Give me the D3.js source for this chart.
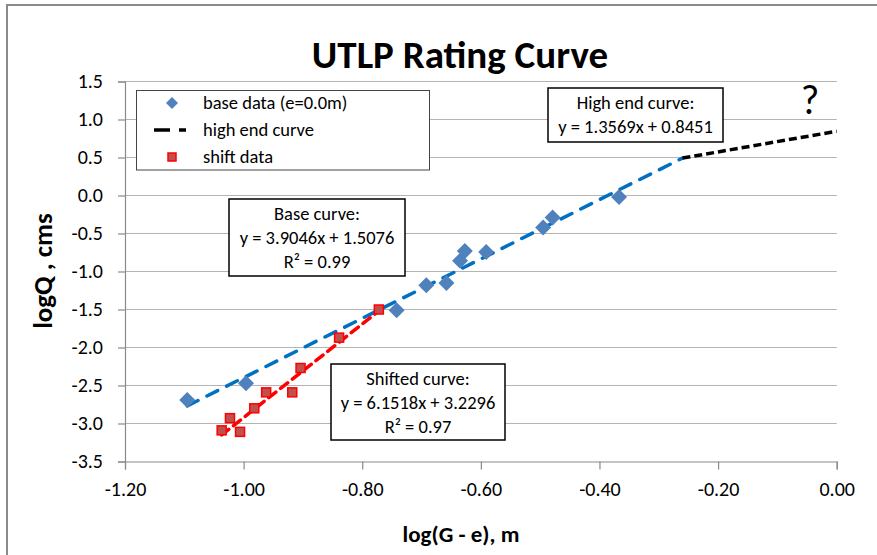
<!DOCTYPE html>
<html lang="en">
<head>
  <meta charset="UTF-8">
  <title>UTLP Rating Curve</title>
  <style>
    body { margin: 0; background: #fff; }
    svg { display: block; font-family: Carlito, Calibri, Lato, sans-serif; }
    .tick text { font-size: 20px; fill: #000; }
    .ann text { font-size: 18.5px; fill: #000; }
  </style>
</head>
<body>
  <script src="https://cdnjs.cloudflare.com/ajax/libs/d3/7.8.5/d3.min.js"></script>
  <svg></svg>
  <script>
    // base data (e = 0.0 m)
    var baseX = [-1.095, -0.996, -0.742, -0.692, -0.658, -0.635, -0.627, -0.591, -0.495, -0.479, -0.367];
    var baseY = [-2.69, -2.47, -1.51, -1.18, -1.15, -0.86, -0.73, -0.745, -0.42, -0.29, -0.02];
    // shift data
    var shiftX = [-1.037, -1.023, -1.006, -0.982, -0.962, -0.918, -0.904, -0.839, -0.772];
    var shiftY = [-3.09, -2.93, -3.11, -2.80, -2.59, -2.59, -2.27, -1.87, -1.50];
    // fitted curves
    var baseFit = {m: 3.9046, b: 1.5076};
    var shiftFit = {m: 6.1518, b: 3.2296};
    var highFit = {m: 1.3569, b: 0.8451};
    var xTicks = [-1.2, -1.0, -0.8, -0.6, -0.4, -0.2, 0.0];
    var yTicks = [1.5, 1.0, 0.5, 0.0, -0.5, -1.0, -1.5, -2.0, -2.5, -3.0, -3.5];
    var legendLabels = ['base data (e=0.0m)', 'high end curve', 'shift data'];

    var width = 877, height = 555;
    var plot = {left: 125, right: 836.7, top: 81.5, bottom: 461.5};

    var svg = d3.select('svg')
                .attr('width', width)
                .attr('height', height);

    var x = d3.scaleLinear().domain([-1.2, 0]).range([plot.left, plot.right]);
    var y = d3.scaleLinear().domain([-3.5, 1.5]).range([plot.bottom, plot.top]);

    // outer chart border
    svg.append('rect')
      .attr('x', 7).attr('y', 5)
      .attr('width', width).attr('height', height)
      .attr('fill', 'none').attr('stroke', '#8a8a8a').attr('stroke-width', 2);

    // gridlines
    svg.append('g')
      .selectAll('line')
      .data(yTicks.slice(0, -1))
      .enter()
      .append('line')
        .attr('x1', plot.left).attr('x2', plot.right)
        .attr('y1', function(d) { return y(d); })
        .attr('y2', function(d) { return y(d); })
        .attr('stroke', '#b4b4b4').attr('stroke-width', 1.2);

    // axes
    var yAxis = svg.append('g')
      .attr('transform', 'translate(' + plot.left + ',0)')
      .call(d3.axisLeft(y).tickValues(yTicks).tickSize(7).tickPadding(15)
        .tickFormat(function(d) { return d.toFixed(1); }));
    var xAxis = svg.append('g')
      .attr('transform', 'translate(0,' + plot.bottom + ')')
      .call(d3.axisBottom(x).tickValues(xTicks).tickSize(8).tickPadding(12)
        .tickFormat(function(d) { return d.toFixed(2); }));
    [xAxis, yAxis].forEach(function(a) {
      a.select('.domain').attr('stroke', '#8a8a8a').attr('stroke-width', 1.2);
      a.selectAll('.tick line').attr('stroke', '#8a8a8a').attr('stroke-width', 1.2);
      a.attr('font-family', null).attr('font-size', null);
    });

    // trend lines
    var xInt = (highFit.b - baseFit.b) / (baseFit.m - highFit.m);
    function fitLine(f, x0, x1) {
      return [[x0, f.m * x0 + f.b], [x1, f.m * x1 + f.b]];
    }
    var line = d3.line().x(function(d) { return x(d[0]); }).y(function(d) { return y(d[1]); });

    svg.append('path')
      .attr('d', line(fitLine(baseFit, d3.min(baseX), xInt)))
      .attr('fill', 'none').attr('stroke', '#0070c0').attr('stroke-width', 3.5)
      .attr('stroke-dasharray', '12,10').attr('stroke-linecap', 'round');
    svg.append('path')
      .attr('d', line(fitLine(highFit, xInt, 0)))
      .attr('fill', 'none').attr('stroke', '#000').attr('stroke-width', 3.5)
      .attr('stroke-dasharray', '8,4');

    // base data
    svg.append('g')
      .selectAll('path')
      .data(baseX)
      .enter()
      .append('path')
        .attr('d', d3.symbol(d3.symbolSquare, 128))
        .attr('transform', function(d, i) {
          return 'translate(' + x(d) + ',' + y(baseY[i]) + ') rotate(45)';
        })
        .attr('fill', '#4f81bd');

    svg.append('path')
      .attr('d', line(fitLine(shiftFit, d3.min(shiftX), d3.max(shiftX))))
      .attr('fill', 'none').attr('stroke', '#ff0000').attr('stroke-width', 3.5)
      .attr('stroke-dasharray', '9,6').attr('stroke-linecap', 'round');

    // shift data
    svg.append('g')
      .selectAll('rect')
      .data(shiftX)
      .enter()
      .append('rect')
        .attr('x', function(d) { return x(d) - 4.5; })
        .attr('y', function(d, i) { return y(shiftY[i]) - 4.5; })
        .attr('width', 9).attr('height', 9)
        .attr('fill', '#c0504d').attr('stroke', '#ff0000').attr('stroke-width', 1.5);

    // title and axis titles
    svg.append('text')
      .attr('x', 460).attr('y', 68)
      .attr('text-anchor', 'middle')
      .attr('font-size', 39).attr('font-weight', 'bold')
      .text('UTLP Rating Curve');
    svg.append('text')
      .attr('x', 461).attr('y', 542)
      .attr('text-anchor', 'middle')
      .attr('font-size', 23).attr('font-weight', 'bold')
      .text('log(G - e), m');
    svg.append('text')
      .attr('transform', 'translate(52,271) rotate(-90)')
      .attr('text-anchor', 'middle')
      .attr('font-size', 27).attr('font-weight', 'bold')
      .text('logQ , cms');

    // legend
    var legend = svg.append('g').attr('class', 'ann');
    legend.append('rect')
      .attr('x', 136.5).attr('y', 90.5).attr('width', 293).attr('height', 79.5)
      .attr('fill', '#fff').attr('stroke', '#444').attr('stroke-width', 1);
    var ly = [103, 130, 157];
    legend.append('path')
      .attr('d', d3.symbol(d3.symbolSquare, 72))
      .attr('transform', 'translate(172,' + ly[0] + ') rotate(45)')
      .attr('fill', '#4f81bd');
    legend.append('line')
      .attr('x1', 154).attr('x2', 186).attr('y1', ly[1]).attr('y2', ly[1])
      .attr('stroke', '#000').attr('stroke-width', 3.5).attr('stroke-dasharray', '16,9');
    legend.append('rect')
      .attr('x', 168).attr('y', ly[2] - 4).attr('width', 8).attr('height', 8)
      .attr('fill', '#c0504d').attr('stroke', '#ff0000').attr('stroke-width', 1.5);
    legend.selectAll('text.lbl')
      .data(legendLabels)
      .enter()
      .append('text')
        .attr('x', 203)
        .attr('y', function(d, i) { return ly[i]; })
        .attr('dy', '0.35em')
        .text(function(d) { return d; });

    // equation boxes
    var boxes = [
      {x: 229, y: 199, w: 176, h: 77, lines: ['Base curve:', 'y = 3.9046x + 1.5076', 'R\u00b2 = 0.99']},
      {x: 331, y: 364, w: 174, h: 76, lines: ['Shifted curve:', 'y = 6.1518x + 3.2296', 'R\u00b2 = 0.97']},
      {x: 548, y: 88, w: 175, h: 54, lines: ['High end curve:', 'y = 1.3569x + 0.8451']}
    ];
    boxes.forEach(function(b) {
      var g = svg.append('g').attr('class', 'ann');
      g.append('rect')
        .attr('x', b.x).attr('y', b.y).attr('width', b.w).attr('height', b.h)
        .attr('fill', '#fff').attr('stroke', '#000').attr('stroke-width', 1.5);
      g.selectAll('text')
        .data(b.lines)
        .enter()
        .append('text')
          .attr('x', b.x + b.w / 2)
          .attr('y', function(d, i) { return b.y + 15 + i * 24; })
          .attr('dy', '0.35em')
          .attr('text-anchor', 'middle')
          .text(function(d) { return d; });
    });

    svg.append('text')
      .attr('x', 810).attr('y', 114)
      .attr('text-anchor', 'middle')
      .attr('font-size', 40)
      .text('?');
  </script>
</body>
</html>
